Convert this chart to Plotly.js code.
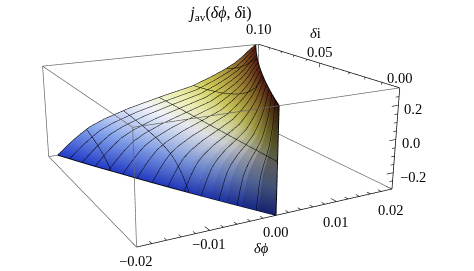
<!DOCTYPE html>
<html><head><meta charset="utf-8">
<script src="https://cdn.plot.ly/plotly-3.0.1.min.js"></script>
<style>html,body{margin:0;padding:0;background:#fff;overflow:hidden}
#wrap{position:relative;width:474px;height:271px;overflow:hidden}
#plot{position:absolute;left:-245px;top:-178px}</style></head>
<body><div id="wrap"><div id="plot"></div></div>
<script>
// values
const deltaI=[0,.00625,.0125,.01875,.025,.03125,.0375,.04375,.05,.05625,.0625,.06875,.075,.08125,.0875,.09375,.1];
const jLevels=[-.3,-.26,-.22,-.18,-.14,-.1,-.05,0,.05,.1,.14,.18,.22,.26,.3];
// delta-phi (units of 1e-5) for each deltaI row at each jLevels column
const phiTable=[
[0,0,0,0,0,0,0,0,0,0,0,0,0,0,0],
[-127,-118,-109,-99,-88,-70,-39,0,33,53,67,78,86,93,101],
[-253,-235,-218,-197,-175,-139,-78,0,68,108,135,158,175,189,205],
[-377,-351,-324,-294,-260,-207,-117,0,103,164,206,241,267,288,312],
[-500,-465,-430,-390,-345,-275,-155,0,139,221,278,325,360,389,421],
[-621,-578,-534,-484,-428,-342,-193,0,176,280,352,412,456,492,533],
[-741,-689,-637,-578,-511,-408,-230,0,214,341,428,501,555,598,648],
[-858,-798,-738,-669,-592,-472,-266,0,252,402,505,591,655,706,765],
[-975,-907,-839,-761,-673,-536,-302,0,292,466,584,684,758,817,885],
[-1090,-1014,-937,-850,-752,-600,-338,0,332,530,665,778,862,929,1007],
[-1200,-1116,-1032,-936,-828,-660,-372,0,374,596,748,876,970,1046,1133],
[-1310,-1218,-1127,-1022,-904,-721,-406,0,416,663,832,975,1079,1164,1261],
[-1425,-1325,-1226,-1112,-983,-784,-442,0,459,732,918,1075,1191,1284,1391],
[-1535,-1428,-1320,-1197,-1059,-844,-476,0,503,802,1006,1178,1305,1407,1524],
[-1640,-1525,-1410,-1279,-1132,-902,-508,0,548,874,1096,1284,1422,1533,1661],
[-1745,-1623,-1501,-1361,-1204,-960,-541,0,594,946,1187,1391,1540,1660,1799],
[-1850,-1720,-1591,-1443,-1276,-1017,-574,0,640,1020,1280,1500,1660,1790,1940]];
// darkening of the steep part of the sheet, one value per band between deltaI rows
const bandShade=[.62,.48,.36,.27,.2,.15,.11,.08,.06,.04,.03,.02,.01,0,0,0];
const phiRange=[-.02,.02], iRange=[0,.1], jRange=[-.3,.3];
const phiMajor=[-.02,-.01,0,.01,.02];
const phiMinor=[-.018,-.016,-.014,-.012,-.008,-.006,-.004,-.002,.002,.004,.006,.008,.012,.014,.016,.018];
const iMajor=[0,.05,.1];
const iMinor=[.01,.02,.03,.04,.06,.07,.08,.09];
const jMajor=[-.2,0,.2];
const jMinor=[-.25,-.15,-.1,-.05,.05,.1,.15,.25];
const phiLabels=['−0.02','−0.01','0.00','0.01','0.02'];
const iLabels=['0.00','0.05','0.10'];
const jLabels=['−0.2','0.0','0.2'];
const phiLabelDrop=[14,14,17,20,21];
const iLabelDrop=[-10,-11,-15];
const jLabelDrop=[4,4,4];
const colorStops=[[0,35,60,200,.7],[.25,130,160,235,.8],[.45,240,243,250,1],[.54,238,238,175,1],[.63,208,203,90,.95],[.8,150,120,45,.85],[1,90,30,20,.7]];

const X=phiTable.map(r=>r.map(v=>v/1e5));
const Y=deltaI.map(d=>jLevels.map(()=>d));
const Z=deltaI.map(()=>jLevels.slice());

const bands=bandShade.map((s,k)=>({type:'surface',x:X.slice(k,k+2),y:Y.slice(k,k+2),z:Z.slice(k,k+2),surfacecolor:Z.slice(k,k+2),
 cmin:-.3,cmax:.3,showscale:false,hoverinfo:'skip',
 colorscale:colorStops.map(c=>{const f=1-s*c[4];return [c[0],`rgb(${Math.round(c[1]*f)},${Math.round(c[2]*f)},${Math.round(c[3]*f)})`];}),
 lighting:{ambient:1,diffuse:0,specular:0,roughness:1,fresnel:0},
 contours:{x:{show:true,start:-.0133333,end:.0134,size:.0066667,color:'#000',width:2,highlight:false},
           y:{show:true,start:.0071429,end:.0935,size:.0071429,color:'#000',width:2,highlight:false},
           z:{show:false,highlight:false}}}));

function seg(pts,color,width){const x=[],y=[],z=[];pts.forEach(s=>{s.forEach(p=>{x.push(p[0]);y.push(p[1]);z.push(p[2])});x.push(null);y.push(null);z.push(null)});
 return {type:'scatter3d',mode:'lines',x,y,z,line:{color,width},hoverinfo:'skip',showlegend:false};}
const [a0,a1]=phiRange,[b0,b1]=iRange,[c0,c1]=jRange;
const grey=seg([
 [[a0,b0,c1],[a1,b0,c1]],[[a0,b1,c1],[a1,b1,c1]],[[a0,b1,c0],[a1,b1,c0]],
 [[a0,b0,c1],[a0,b1,c1]],[[a0,b0,c0],[a0,b1,c0]],[[a1,b0,c0],[a1,b1,c0]],
 [[a0,b0,c0],[a0,b0,c1]],[[a0,b1,c0],[a0,b1,c1]],[[a1,b1,c0],[a1,b1,c1]]],'#666',1.4);
const axes=seg([[[a0,b0,c0],[a1,b0,c0]],[[a1,b0,c1],[a1,b1,c1]],[[a1,b0,c0],[a1,b0,c1]]],'#000',1.4);
const tk=[];
phiMajor.forEach(v=>tk.push([[v,b0,c0],[v,.0035,c0]]));
phiMinor.forEach(v=>tk.push([[v,b0,c0],[v,.002,c0]]));
iMajor.forEach(v=>tk.push([[a1,v,c1],[a1,v,c1-.026]]));
iMinor.forEach(v=>tk.push([[a1,v,c1],[a1,v,c1-.014]]));
jMajor.forEach(v=>tk.push([[a1,b0,v],[a1-.0012,b0,v]]));
jMinor.forEach(v=>tk.push([[a1,b0,v],[a1-.0006,b0,v]]));
const ticks=seg(tk,'#000',1.2);
const last=jLevels.length-1;
const outline=seg([
 X.map((r,k)=>[r[0],deltaI[k],jLevels[0]]),
 X[X.length-1].map((v,j)=>[v,iRange[1],jLevels[j]]),
 X.map((r,k)=>[r[last],deltaI[k],jLevels[last]]),
 [[0,0,c0],[0,0,c1]]],'#000',1.8);

const font={family:'"Liberation Serif",serif',size:14.5,color:'#000'};
const ann=[];
function lab(x,y,z,text,xs,ys){ann.push({x,y,z,text,xshift:xs,yshift:-ys,showarrow:false,font,xanchor:'center',yanchor:'middle'});}
phiMajor.forEach((v,k)=>lab(v,b0,c0,phiLabels[k],-1,phiLabelDrop[k]));
iMajor.forEach((v,k)=>lab(a1,v,c1,iLabels[k],0,iLabelDrop[k]));
jMajor.forEach((v,k)=>lab(a1,b0,v,jLabels[k],v<0?20:15,jLabelDrop[k]));
lab(0,b0,c0,'<i>δϕ</i>',-15,33);
lab(a1,.062,c1,'<i>δ</i>i',12,-25);

const ax=r=>({range:r,autorange:false,showgrid:false,zeroline:false,showline:false,showticklabels:false,ticks:'',showbackground:false,showspikes:false,title:{text:''}});
Plotly.newPlot('plot',[...bands,grey,axes,ticks,outline],{
 width:910,height:606,margin:{l:0,r:0,t:0,b:0},paper_bgcolor:'#fff',showlegend:false,
 title:{text:'<i>j</i><sub>av</sub>(<i>δϕ</i>, <i>δ</i>i)',font:{family:'"Liberation Serif",serif',size:16,color:'#000'},x:(221+245)/910,xref:'container',xanchor:'center',y:1-(12+178)/606,yref:'container',yanchor:'middle'},
 scene:{domain:{x:[0,1],y:[0,1]},aspectmode:'manual',aspectratio:{x:1,y:.935,z:.378},
  camera:{eye:{x:-1.247,y:-2.343,z:.803},center:{x:0,y:0,z:0},up:{x:0,y:0,z:1},projection:{type:'perspective'}},
  xaxis:ax(phiRange),yaxis:ax(iRange),zaxis:ax(jRange),annotations:ann}
},{displayModeBar:false,staticPlot:false});
</script></body></html>
